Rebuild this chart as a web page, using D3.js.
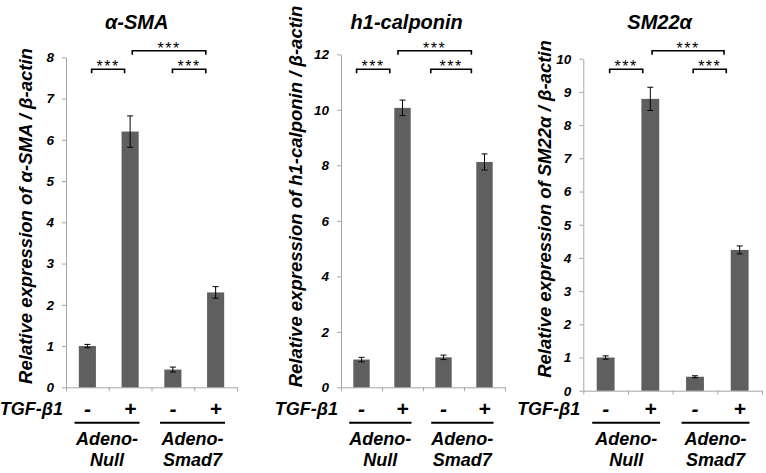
<!DOCTYPE html>
<html>
<head>
<meta charset="utf-8">
<script src="https://cdn.jsdelivr.net/npm/d3@7"></script>
<style>
  html, body { margin: 0; padding: 0; background: #fff; }
  svg { display: block; }
  text { font-family: "Liberation Sans", Arial, sans-serif; font-weight: bold; font-style: italic; fill: #000; }
</style>
</head>
<body>
<svg id="chart" width="766" height="473"></svg>
<script>
// ---------- data ----------
const categories = ["Null-", "Null+", "Smad7-", "Smad7+"];
const treatmentSigns = ["-", "+", "-", "+"];
const groupLabels = [["Adeno-", "Null"], ["Adeno-", "Smad7"]];
const treatmentLabel = "TGF-β1";
const titles = ["α-SMA", "h1-calponin", "SM22α"];
const yAxisLabels = [
  "Relative expression of α-SMA / β-actin",
  "Relative expression of h1-calponin / β-actin",
  "Relative expression of SM22α / β-actin"
];
const smaValues = [1.0, 6.2, 0.43, 2.3];
const smaErrors = [0.04, 0.38, 0.06, 0.14];
const calponinValues = [1.0, 10.07, 1.08, 8.12];
const calponinErrors = [0.08, 0.28, 0.08, 0.29];
const sm22Values = [1.0, 8.79, 0.42, 4.24];
const sm22Errors = [0.05, 0.35, 0.03, 0.12];
const yMaxes = [8, 12, 10];
const yTickSteps = [1, 2, 1];
const sigLabels = ["***", "***", "***"];

// ---------- layout (pixels) ----------
const layout = [
  { x0: 66, x1: 237, yTop: 57.3, yBase: 387.3, titleX: 136.7, labelX: 31.7, labelY: 216,
    brackets: [[0.60, 1.37, 69.3], [1.55, 3.27, 50.7], [2.49, 3.27, 69.3]] },
  { x0: 341, x1: 505, yTop: 54.3, yBase: 387.3, titleX: 406.7, labelX: 301.7, labelY: 196.5,
    brackets: [[0.38, 1.19, 69.3], [1.39, 3.18, 50.7], [2.19, 3.18, 69.3]] },
  { x0: 583.3, x1: 762, yTop: 58.7, yBase: 390.7, titleX: 659.7, labelX: 551, labelY: 209,
    brackets: [[0.59, 1.33, 69.3], [1.54, 3.15, 50.7], [2.46, 3.20, 69.3]] }
];
const seriesValues = [smaValues, calponinValues, sm22Values];
const seriesErrors = [smaErrors, calponinErrors, sm22Errors];

const svg = d3.select("#chart");
const barColor = "#5f5f5f";
const axisColor = "#a6a6a6";

layout.forEach((L, p) => {
  const g = svg.append("g");
  const values = seriesValues[p], errors = seriesErrors[p];
  const data = categories.map((c, i) => ({ c, v: values[i], e: errors[i], s: treatmentSigns[i] }));

  const x = d3.scaleBand().domain(categories).range([L.x0, L.x1]).paddingInner(0.6).paddingOuter(0.3);
  const xu = d3.scaleLinear().domain([0, categories.length]).range([L.x0, L.x1]);
  const y = d3.scaleLinear().domain([0, yMaxes[p]]).range([L.yBase, L.yTop]);

  // y axis
  const yAxis = d3.axisLeft(y)
    .tickValues(d3.range(0, yMaxes[p] + 0.001, yTickSteps[p]))
    .tickSize(4).tickSizeOuter(0).tickPadding(8)
    .tickFormat(d3.format("d"));
  const ya = g.append("g").attr("transform", `translate(${L.x0},0)`).call(yAxis);
  ya.attr("font-size", null).attr("font-family", null);
  ya.select(".domain").attr("stroke", axisColor).attr("stroke-width", 1);
  ya.selectAll(".tick line").attr("stroke", axisColor);
  ya.selectAll(".tick text")
    .style("font-size", "13.5px").style("font-weight", "bold").style("font-style", "italic")
    .style("font-family", '"Liberation Sans", Arial, sans-serif').attr("fill", "#111");

  // x axis
  const xAxis = d3.axisBottom(xu).tickValues(d3.range(0, categories.length + 1))
    .tickSize(4).tickSizeOuter(0).tickFormat("");
  const xa = g.append("g").attr("transform", `translate(0,${L.yBase})`).call(xAxis);
  xa.select(".domain").attr("stroke", axisColor);
  xa.selectAll(".tick line").attr("stroke", axisColor);

  // bars
  g.selectAll("rect.bar").data(data).join("rect").attr("class", "bar")
    .attr("x", d => x(d.c)).attr("width", x.bandwidth())
    .attr("y", d => y(d.v)).attr("height", d => y(0) - y(d.v))
    .attr("fill", barColor);

  // error bars
  const eb = g.selectAll("g.err").data(data).join("g").attr("class", "err")
    .attr("stroke", "#000").attr("stroke-width", 1);
  const cx = d => x(d.c) + x.bandwidth() / 2;
  eb.append("line").attr("x1", cx).attr("x2", cx).attr("y1", d => y(d.v + d.e)).attr("y2", d => y(d.v - d.e));
  eb.append("line").attr("x1", d => cx(d) - 3).attr("x2", d => cx(d) + 3).attr("y1", d => y(d.v + d.e)).attr("y2", d => y(d.v + d.e));
  eb.append("line").attr("x1", d => cx(d) - 3).attr("x2", d => cx(d) + 3).attr("y1", d => y(d.v - d.e)).attr("y2", d => y(d.v - d.e));

  // significance brackets
  L.brackets.forEach((b, k) => {
    const xa0 = xu(b[0]), xa1 = xu(b[1]), yb = b[2];
    g.append("path")
      .attr("d", `M${xa0},${yb + 4}V${yb}H${xa1}V${yb + 4}`)
      .attr("fill", "none").attr("stroke", "#000").attr("stroke-width", 1.6);
    g.append("text").attr("x", (xa0 + xa1) / 2).attr("y", yb + 3)
      .attr("text-anchor", "middle").attr("font-size", 16)
      .style("font-weight", "normal").style("font-style", "normal")
      .attr("letter-spacing", 1.5).attr("fill", "#222")
      .text(sigLabels[k]);
  });

  // title
  g.append("text").attr("x", L.titleX).attr("y", 29).attr("text-anchor", "middle")
    .attr("font-size", 20).text(titles[p]);

  // y label
  g.append("text").attr("transform", `translate(${L.labelX},${L.labelY}) rotate(-90)`)
    .attr("text-anchor", "middle").attr("font-size", 18.5).text(yAxisLabels[p]);

  // treatment row
  g.append("text").attr("x", L.x0 - 3).attr("y", 415).attr("text-anchor", "end")
    .attr("font-size", 18).text(treatmentLabel);
  g.selectAll("text.sign").data(data).join("text").attr("class", "sign")
    .attr("x", cx).attr("y", 416).attr("text-anchor", "middle")
    .attr("font-size", 21).text(d => d.s);

  // group lines and labels
  groupLabels.forEach((gl, gi) => {
    const a = xu(gi * 2 + 0.2), bx = xu(gi * 2 + 1.72);
    g.append("line").attr("x1", a).attr("x2", bx).attr("y1", 422.7).attr("y2", 422.7)
      .attr("stroke", "#000").attr("stroke-width", 2);
    const mid = (a + bx) / 2;
    g.append("text").attr("x", mid).attr("y", 445).attr("text-anchor", "middle").attr("font-size", 18).text(gl[0]);
    g.append("text").attr("x", mid).attr("y", 466).attr("text-anchor", "middle").attr("font-size", 18).text(gl[1]);
  });
});
</script>
</body>
</html>
